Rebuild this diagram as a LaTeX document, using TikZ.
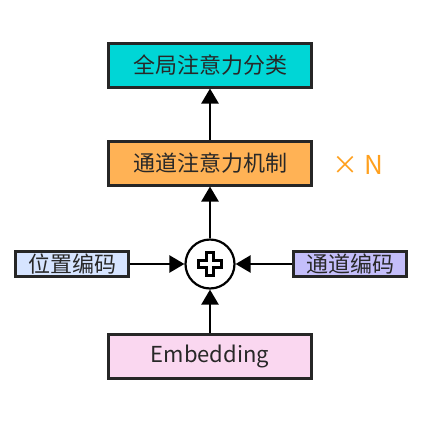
\documentclass[tikz,border=0pt]{standalone}
\usepackage{fontspec}
\setmainfont{Noto Sans CJK SC}
\usepackage{tikz}
\usepackage{xcolor}
\usetikzlibrary{arrows.meta}

\definecolor{headcyan}{RGB}{0,214,214}
\definecolor{attnorange}{RGB}{255,178,85}
\definecolor{posblue}{RGB}{214,228,255}
\definecolor{chanviolet}{RGB}{196,190,250}
\definecolor{embpink}{RGB}{250,215,240}
\definecolor{repcolor}{RGB}{255,160,30}
\definecolor{txtgray}{RGB}{40,40,40}

\tikzset{
  block/.style={draw=black!85, line width=3pt, minimum width=203pt, minimum height=44pt,
    inner sep=0pt, font=\fontsize{22}{24}\selectfont, text=txtgray},
  smallblock/.style={block, minimum width=113pt, minimum height=25pt},
  flow/.style={line width=2.4pt, -{Triangle[length=15pt,width=17pt]}},
}

\begin{document}
\begin{tikzpicture}[x=1pt,y=-1pt]
    \useasboundingbox (0,0) rectangle (428,426);
    \node[block, fill=headcyan] (head) at (210,65) {全局注意力分类};
    \node[block, fill=attnorange] (attn) at (210,163) {通道注意力机制};
    \node[text=repcolor, font=\fontsize{26}{28}\selectfont] (rep) at (358,165) {× N};
    \node[circle, draw=black, line width=2.2pt, fill=white, minimum size=49pt, inner sep=0pt] (add) at (210,264) {};
    \draw[line width=2.8pt, fill=white] (add.center)
      ++(-3.5,-11.5) -- ++(7,0) -- ++(0,8) -- ++(8,0) -- ++(0,7) -- ++(-8,0) -- ++(0,8)
      -- ++(-7,0) -- ++(0,-8) -- ++(-8,0) -- ++(0,-7) -- ++(8,0) -- cycle;
    \node[smallblock, fill=posblue] (pos) at (72,264) {位置编码};
    \node[smallblock, fill=chanviolet] (chan) at (350,264) {通道编码};
    \node[block, fill=embpink] (emb) at (210,356) {Embedding};
    % arrows
    \draw[flow] (emb) -- (add);
    \draw[flow] (add) -- (attn);
    \draw[flow] (attn) -- (head);
    \draw[flow] (pos) -- (add);
    \draw[flow] (chan) -- (add);
  \end{tikzpicture}
\end{document}
